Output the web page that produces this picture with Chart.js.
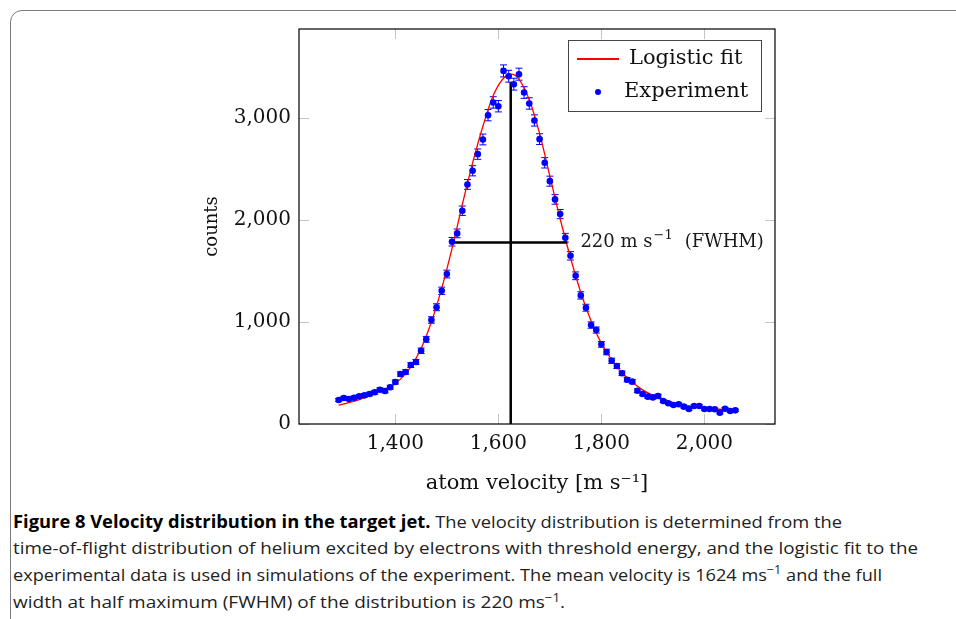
<!DOCTYPE html>
<html>
<head>
<meta charset="utf-8">
<script src="https://cdn.jsdelivr.net/npm/chart.js@4.4.0/dist/chart.umd.min.js"></script>
<style>
  body { margin: 0; background: #fff; width: 956px; height: 619px; overflow: hidden; position: relative; }
  #frame { position: absolute; left: 10px; top: 10px; width: 990px; height: 700px; border: 1px solid #7a7a7a; border-radius: 12px; }
  #chartCanvas { position: absolute; left: 0; top: 0; }
  #caption { position: absolute; left: 13px; top: 509px; font-family: "Open Sans", sans-serif; font-size: 17px; line-height: 26.4px; color: #222; white-space: nowrap; }
  #caption div { width: max-content; transform-origin: 0 50%; }
  #caption b { color: #000; }
  #caption sup { font-size: 0.7em; vertical-align: 0; position: relative; top: -0.55em; }
</style>
</head>
<body>
<div id="frame"></div>
<canvas id="chartCanvas" width="956" height="500"></canvas>
<div id="caption">
  <div><b>Figure 8 Velocity distribution in the target jet.</b> The velocity distribution is determined from the</div>
  <div>time-of-flight distribution of helium excited by electrons with threshold energy, and the logistic fit to the</div>
  <div>experimental data is used in simulations of the experiment. The mean velocity is 1624 ms<sup>−1</sup> and the full</div>
  <div>width at half maximum (FWHM) of the distribution is 220 ms<sup>−1</sup>.</div>
</div>
<script>
// measured points (atom velocity in m/s, counts)
const velocity = [
  1290, 1300, 1310, 1320, 1330, 1340, 1350, 1360, 1370, 1380,
  1390, 1400, 1410, 1420, 1430, 1440, 1450, 1460, 1470, 1480,
  1490, 1500, 1510, 1520, 1530, 1540, 1550, 1560, 1570, 1580,
  1590, 1600, 1610, 1620, 1630, 1640, 1650, 1660, 1670, 1680,
  1690, 1700, 1710, 1720, 1730, 1740, 1750, 1760, 1770, 1780,
  1790, 1800, 1810, 1820, 1830, 1840, 1850, 1860, 1870, 1880,
  1890, 1900, 1910, 1920, 1930, 1940, 1950, 1960, 1970, 1980,
  1990, 2000, 2010, 2020, 2030, 2040, 2050, 2060
];
const counts = [
  235, 255, 245, 258, 271, 281, 294, 311, 336, 323,
  360, 412, 490, 510, 578, 608, 718, 830, 1020, 1145,
  1306, 1470, 1787, 1869, 2091, 2349, 2483, 2646, 2790, 3028,
  3153, 3116, 3462, 3410, 3332, 3430, 3250, 3143, 2976, 2793,
  2561, 2381, 2202, 2058, 1826, 1649, 1453, 1261, 1140, 970,
  921, 781, 706, 620, 568, 497, 434, 415, 326, 294,
  268, 261, 274, 225, 203, 186, 193, 170, 147, 176,
  176, 147, 147, 144, 111, 150, 127, 134
];
const countErr = [
  15, 16, 16, 16, 16, 17, 17, 18, 18, 18,
  19, 20, 22, 23, 24, 25, 27, 29, 32, 34,
  36, 38, 42, 43, 46, 48, 50, 51, 53, 55,
  56, 56, 59, 58, 58, 59, 57, 56, 55, 53,
  51, 49, 47, 45, 43, 41, 38, 36, 34, 31,
  30, 28, 27, 25, 24, 22, 21, 20, 18, 17,
  16, 16, 17, 15, 14, 14, 14, 13, 12, 13,
  13, 12, 12, 12, 11, 12, 11, 12
];

// logistic fit curve
const fitVelocity = [
  1290, 1310, 1330, 1350, 1370, 1390, 1410, 1430, 1450, 1470,
  1490, 1510, 1530, 1550, 1570, 1590, 1610, 1625, 1640, 1660,
  1680, 1700, 1720, 1740, 1760, 1780, 1800, 1820, 1840, 1860,
  1880, 1900, 1920, 1940, 1960, 1980, 2000, 2020, 2040, 2060
];
const fitCounts = [
  183, 210, 240, 278, 325, 366, 440, 560, 740, 1000,
  1330, 1720, 2150, 2560, 2920, 3220, 3390, 3430, 3380, 3180,
  2850, 2430, 2010, 1630, 1290, 1010, 790, 630, 500, 410,
  335, 280, 240, 210, 188, 170, 157, 147, 140, 135
];

// mean velocity marker and FWHM bar
const meanVelocity = 1624;
const meanTop = 3350;
const halfMax = 1780;
const fwhmFrom = 1514;
const fwhmTo = 1734;

const xTicks = [1400, 1600, 1800, 2000];
const yTicks = [0, 1000, 2000, 3000];

const serif = "'DejaVu Serif', serif";

function pts(xs, ys) {
  return xs.map((v, i) => ({ x: v, y: ys[i] }));
}

const decorPlugin = {
  id: 'decor',
  beforeDatasetsDraw(chart) {
    const { ctx, chartArea: a, scales: { x, y } } = chart;
    ctx.save();
    // short grey tick marks inside the frame
    ctx.strokeStyle = '#c4c4c4';
    ctx.lineWidth = 1;
    ctx.beginPath();
    x.ticks.forEach(t => {
      const px = Math.round(x.getPixelForValue(t.value)) + 0.5;
      ctx.moveTo(px, a.bottom); ctx.lineTo(px, a.bottom - 10);
      ctx.moveTo(px, a.top); ctx.lineTo(px, a.top + 10);
    });
    y.ticks.forEach(t => {
      const py = Math.round(y.getPixelForValue(t.value)) + 0.5;
      ctx.moveTo(a.left, py); ctx.lineTo(a.left + 10, py);
      ctx.moveTo(a.right, py); ctx.lineTo(a.right - 10, py);
    });
    ctx.stroke();

    // error bars
    ctx.strokeStyle = '#0000ff';
    ctx.lineWidth = 1;
    ctx.beginPath();
    velocity.forEach((v, i) => {
      const px = x.getPixelForValue(v);
      const top = y.getPixelForValue(counts[i] + countErr[i]);
      const bot = y.getPixelForValue(counts[i] - countErr[i]);
      ctx.moveTo(px, top); ctx.lineTo(px, bot);
      ctx.moveTo(px - 3.5, top); ctx.lineTo(px + 3.5, top);
      ctx.moveTo(px - 3.5, bot); ctx.lineTo(px + 3.5, bot);
    });
    ctx.stroke();
    ctx.restore();
  },
  afterDraw(chart) {
    const { ctx, chartArea: a, scales: { x, y } } = chart;
    ctx.save();
    // axis frame
    ctx.strokeStyle = '#000';
    ctx.lineWidth = 1.2;
    ctx.strokeRect(a.left, a.top, a.right - a.left, a.bottom - a.top);

    // FWHM label, with a raised exponent
    ctx.fillStyle = '#1a1a1a';
    ctx.textBaseline = 'middle';
    ctx.textAlign = 'left';
    let lx = x.getPixelForValue(fwhmTo) + 13;
    const ly = y.getPixelForValue(halfMax);
    ctx.font = "18px " + serif;
    ctx.fillText('220 m s', lx, ly);
    lx += ctx.measureText('220 m s').width + 1;
    ctx.font = "13px " + serif;
    ctx.fillText('−1', lx, ly - 7);
    lx += ctx.measureText('−1').width + 12;
    ctx.font = "18px " + serif;
    ctx.fillText('(FWHM)', lx, ly);

    // legend box
    const bw = 193, bh = 71;
    const bx = a.right - 14 - bw, by = a.top + 11;
    ctx.fillStyle = '#fff';
    ctx.fillRect(bx, by, bw, bh);
    ctx.strokeStyle = '#444';
    ctx.lineWidth = 1;
    ctx.strokeRect(bx + 0.5, by + 0.5, bw, bh);
    ctx.strokeStyle = '#ff0000';
    ctx.lineWidth = 2;
    ctx.beginPath();
    ctx.moveTo(bx + 9, by + 19); ctx.lineTo(bx + 51, by + 19);
    ctx.stroke();
    ctx.fillStyle = '#0000ff';
    ctx.beginPath();
    ctx.arc(bx + 30, by + 52, 3, 0, Math.PI * 2);
    ctx.fill();
    ctx.fillStyle = '#111';
    ctx.font = "21px " + serif;
    ctx.fillText('Logistic fit', bx + 61, by + 19);
    ctx.fillText('Experiment', bx + 56, by + 52);
    ctx.restore();
  }
};

const ctx = document.getElementById('chartCanvas').getContext('2d');
new Chart(ctx, {
  type: 'line',
  data: {
    datasets: [
      {
        label: 'Logistic fit',
        data: pts(fitVelocity, fitCounts),
        borderColor: '#ff0000',
        borderWidth: 1.3,
        pointRadius: 0,
        cubicInterpolationMode: 'monotone',
        order: 3
      },
      {
        label: 'Experiment',
        data: pts(velocity, counts),
        showLine: false,
        pointRadius: 3.3,
        pointBackgroundColor: '#0000ff',
        pointBorderWidth: 0,
        order: 1
      },
      {
        label: 'mean',
        data: [{ x: meanVelocity, y: 0 }, { x: meanVelocity, y: meanTop }],
        borderColor: '#000',
        borderWidth: 2.5,
        pointRadius: 0,
        order: 2
      },
      {
        label: 'fwhm',
        data: [{ x: fwhmFrom, y: halfMax }, { x: fwhmTo, y: halfMax }],
        borderColor: '#000',
        borderWidth: 2.5,
        pointRadius: 0,
        order: 2
      }
    ]
  },
  options: {
    responsive: false,
    animation: false,
    layout: { padding: { left: 198, top: 29, right: 181, bottom: 0 } },
    plugins: { legend: { display: false }, tooltip: { enabled: false } },
    scales: {
      x: {
        type: 'linear',
        min: 1213,
        max: 2137,
        grid: { display: false },
        border: { display: false },
        afterBuildTicks: s => { s.ticks = xTicks.map(v => ({ value: v })); },
        afterFit: s => { s.height = 76; },
        ticks: {
          font: { family: serif, size: 20 },
          color: '#111',
          padding: 0,
          maxRotation: 0,
          callback: v => v.toLocaleString('en-US')
        },
        title: {
          display: true,
          text: 'atom velocity [m s⁻¹]',
          font: { family: serif, size: 21 },
          color: '#111',
          padding: { top: 4, bottom: 4 }
        }
      },
      y: {
        min: 0,
        max: 3873,
        grid: { display: false },
        border: { display: false },
        afterBuildTicks: s => { s.ticks = yTicks.map(v => ({ value: v })); },
        afterFit: s => { s.width = 101; },
        ticks: {
          font: { family: serif, size: 20 },
          color: '#111',
          padding: 0,
          callback: v => v.toLocaleString('en-US')
        },
        title: {
          display: true,
          text: 'counts',
          font: { family: serif, size: 18 },
          color: '#111',
          padding: { top: 4, bottom: 4 }
        }
      }
    }
  },
  plugins: [decorPlugin]
});

// squeeze each caption line to the width it has in the original typeface
const capLines = document.querySelectorAll('#caption div');
const capWidths = [829, 905, 869, 552];
capLines.forEach((el, i) => {
  const f = capWidths[i] / el.getBoundingClientRect().width;
  el.style.transform = 'scaleX(' + f + ')';
});
</script>
</body>
</html>
